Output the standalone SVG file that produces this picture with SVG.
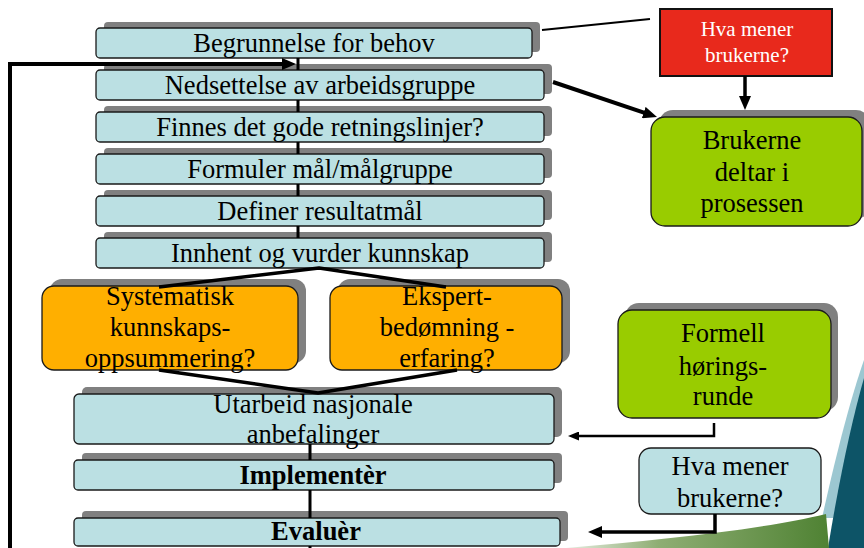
<svg xmlns="http://www.w3.org/2000/svg" width="864" height="548" viewBox="0 0 864 548">
<style>
.sh{fill:#808080}
.bx{fill:#BBE0E3;stroke:#1a1a1a;stroke-width:1.3}
.or{fill:#FFAF00;stroke:#1a1a1a;stroke-width:1.3}
.gr{fill:#99CC00;stroke:#1a1a1a;stroke-width:1.3}
.t{font-family:"Liberation Serif","Times New Roman",serif;font-size:26.5px;fill:#000;text-anchor:middle}
.b{font-weight:bold}
.c{stroke:#000;fill:none}
</style>
<defs>
<marker id="ah" markerUnits="userSpaceOnUse" markerWidth="14" markerHeight="12" refX="8" refY="6" orient="auto">
<path d="M0,0 L14,6 L0,12 Z" fill="#000"/>
</marker>
<marker id="ahs" markerUnits="userSpaceOnUse" markerWidth="11" markerHeight="9" refX="6" refY="4.5" orient="auto">
<path d="M0,0 L11,4.5 L0,9 Z" fill="#000"/>
</marker>
<linearGradient id="gg" x1="0" y1="0" x2="1" y2="0">
<stop offset="0" stop-color="#E6ECE0"/>
<stop offset="0.35" stop-color="#8FAE74"/>
<stop offset="1" stop-color="#4F8233"/>
</linearGradient>
</defs>
<rect width="864" height="548" fill="#fff"/>
<g id="background">
<path d="M864 360 C850 400 836 455 822 518 L864 518 Z" fill="#9CC7D1"/>
<path d="M864 378 C852 420 840 475 828 548 L864 548 Z" fill="#0D5467"/>
<path d="M566 548 C660 540 760 530 826 514 L829 548 Z" fill="url(#gg)"/>
</g>
<g id="n1"><rect class="sh" x="104" y="22" width="436" height="30" rx="4"/><rect class="bx" x="96" y="28" width="436" height="30" rx="4"/><text class="t" x="314" y="52">Begrunnelse for behov</text></g>
<g id="n2"><rect class="sh" x="104" y="64" width="448" height="30" rx="4"/><rect class="bx" x="96" y="70" width="448" height="30" rx="4"/><text class="t" x="320" y="94">Nedsettelse av arbeidsgruppe</text></g>
<g id="n3"><rect class="sh" x="104" y="106" width="448" height="30" rx="4"/><rect class="bx" x="96" y="112" width="448" height="30" rx="4"/><text class="t" x="320" y="136">Finnes det gode retningslinjer?</text></g>
<g id="n4"><rect class="sh" x="104" y="148" width="448" height="30" rx="4"/><rect class="bx" x="96" y="154" width="448" height="30" rx="4"/><text class="t" x="320" y="178">Formuler mål/målgruppe</text></g>
<g id="n5"><rect class="sh" x="104" y="190" width="448" height="30" rx="4"/><rect class="bx" x="96" y="196" width="448" height="30" rx="4"/><text class="t" x="320" y="220">Definer resultatmål</text></g>
<g id="n6"><rect class="sh" x="104" y="232" width="448" height="30" rx="4"/><rect class="bx" x="96" y="238" width="448" height="30" rx="4"/><text class="t" x="320" y="262">Innhent og vurder kunnskap</text></g>
<g id="n7"><rect class="sh" x="50" y="279" width="256" height="84" rx="12"/><rect class="or" x="42" y="286" width="256" height="84" rx="12"/><text class="t" x="170" y="305">Systematisk</text><text class="t" x="170" y="336">kunnskaps-</text><text class="t" x="170" y="367">oppsummering?</text></g>
<g id="n8"><rect class="sh" x="338" y="279" width="232" height="84" rx="12"/><rect class="or" x="330" y="286" width="232" height="84" rx="12"/><text class="t" x="447" y="305">Ekspert-</text><text class="t" x="447" y="336">bedømning -</text><text class="t" x="447" y="367">erfaring?</text></g>
<g id="n9"><rect class="sh" x="82" y="387" width="480" height="50" rx="5"/><rect class="bx" x="74" y="394" width="480" height="50" rx="5"/><text class="t" x="313" y="413">Utarbeid nasjonale</text><text class="t" x="313" y="443">anbefalinger</text></g>
<g id="n10"><rect class="sh" x="82" y="453" width="480" height="30" rx="4"/><rect class="bx" x="74" y="460" width="480" height="30" rx="4"/><text class="t b" x="313" y="484">Implementèr</text></g>
<g id="n11"><rect class="sh" x="82" y="511" width="486" height="30" rx="4"/><rect class="bx" x="74" y="518" width="486" height="28" rx="4"/><text class="t b" x="316" y="540">Evaluèr</text></g>
<g id="n12"><rect x="660" y="9" width="172" height="67" fill="#E8291C" stroke="#111" stroke-width="2"/><text class="t" x="747" y="36" style="font-size:21px;fill:#fff">Hva mener</text><text class="t" x="747" y="62" style="font-size:21px;fill:#fff">brukerne?</text></g>
<g id="n13"><rect class="sh" x="659" y="110" width="211" height="109" rx="14"/><rect class="gr" x="651" y="117" width="211" height="109" rx="14"/><text class="t" x="752" y="149">Brukerne</text><text class="t" x="752" y="181">deltar i</text><text class="t" x="752" y="212">prosessen</text></g>
<g id="n14"><rect class="sh" x="625" y="303" width="213" height="108" rx="14"/><rect class="gr" x="618" y="310" width="213" height="108" rx="14"/><text class="t" x="723" y="342">Formell</text><text class="t" x="723" y="375">hørings-</text><text class="t" x="723" y="405">runde</text></g>
<g id="n15"><rect class="bx" x="639" y="448" width="182" height="66" rx="12"/><text class="t" x="730" y="475">Hva mener</text><text class="t" x="730" y="507">brukerne?</text></g>
<g id="connectors">
<path class="c" stroke-width="3" d="M298 58 V70 M298 100 V112 M298 142 V154 M298 184 V196 M298 226 V238"/>
<path class="c" stroke-width="3" d="M310 444 V460 M310 490 V518 M310 546 V548"/>
<path class="c" stroke-width="3.5" stroke-linejoin="round" d="M159 287 L319 268 L446 287"/>
<path class="c" stroke-width="3.5" stroke-linejoin="round" d="M159 370 L318 393 L457 370"/>
<path class="c" stroke-width="4" d="M10 548 V64 H290" marker-end="url(#ah)"/>
<path class="c" stroke-width="2" d="M542 30 L650 19"/>
<path class="c" stroke-width="4" d="M553 82 L651.3 115.1" marker-end="url(#ah)"/>
<path class="c" stroke-width="3.5" d="M745 76 V104" marker-end="url(#ah)"/>
<path class="c" stroke-width="2.5" d="M714 423 V436 H573" marker-end="url(#ahs)"/>
<path class="c" stroke-width="3.5" d="M715 514 V532 H594" marker-end="url(#ah)"/>
</g>
</svg>
